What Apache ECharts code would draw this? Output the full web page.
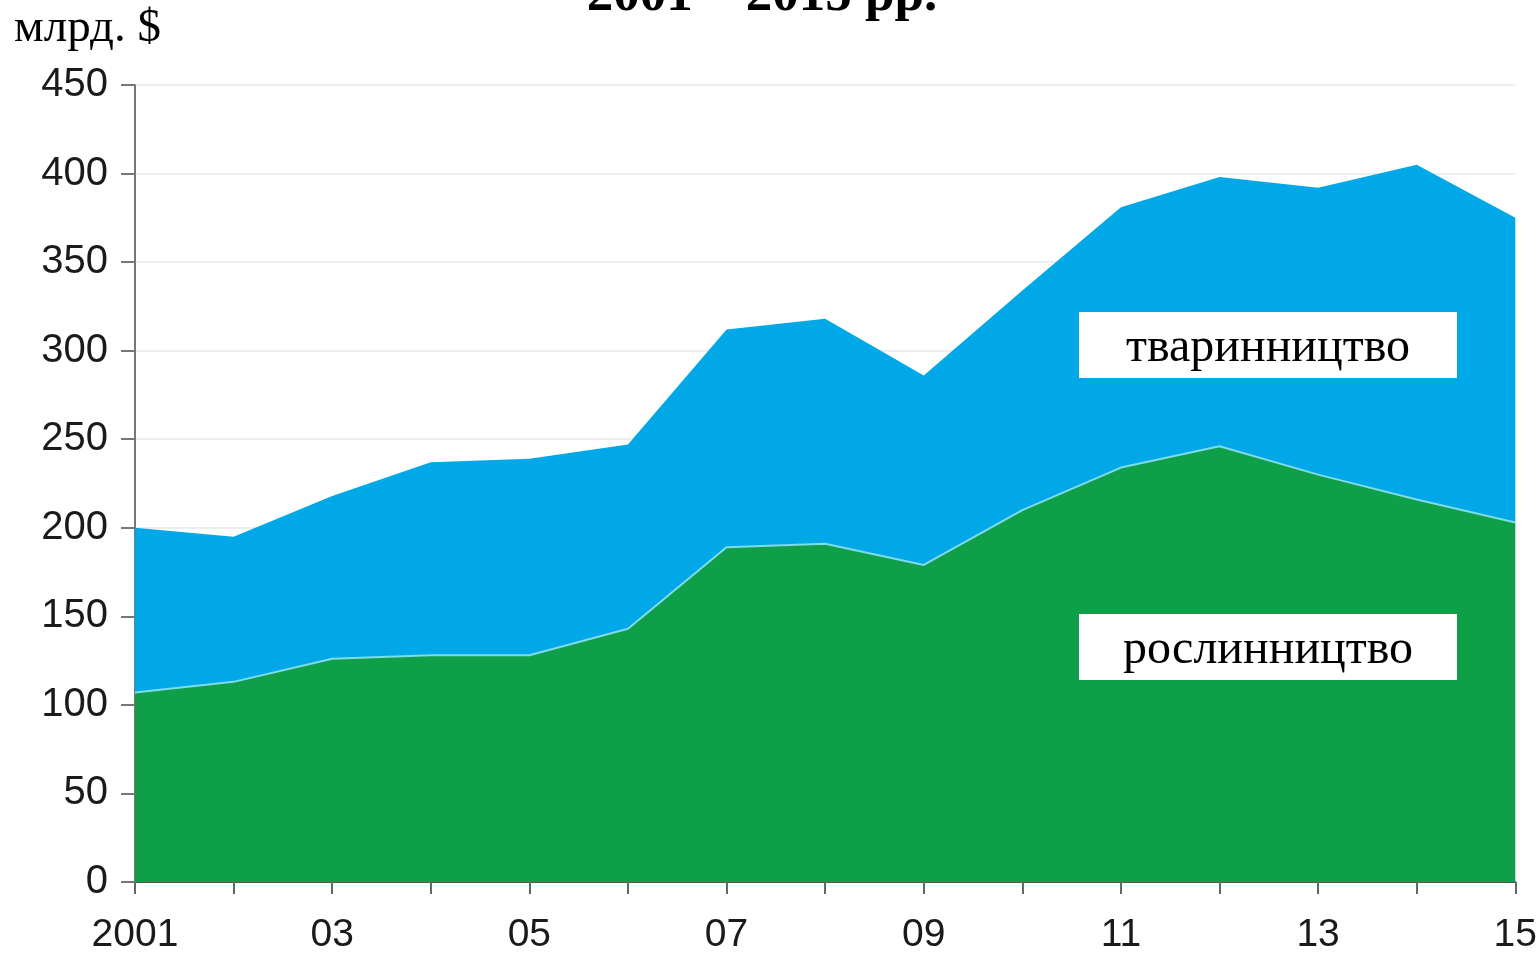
<!DOCTYPE html>
<html>
<head>
<meta charset="utf-8">
<script src="https://cdn.jsdelivr.net/npm/echarts@6/dist/echarts.min.js"></script>
<style>
  html, body { margin: 0; padding: 0; background: #fff; }
  #chart { width: 1540px; height: 957px; }
</style>
</head>
<body>
<div id="chart"></div>
<script>
// years and values (млрд. $)
const years = ['2001', '2002', '2003', '2004', '2005', '2006', '2007', '2008',
  '2009', '2010', '2011', '2012', '2013', '2014', '2015'];
const yearLabels = ['2001', '', '03', '', '05', '', '07', '', '09', '', '11', '', '13', '', '15'];
const crops = [107, 113, 126, 128, 128, 143, 189, 191, 179, 210, 234, 246, 230, 216, 203];
const totals = [200, 195, 218, 237, 239, 247, 312, 318, 286, 334, 381, 398, 392, 405, 375];
const livestock = totals.map((t, i) => t - crops[i]);

const chart = echarts.init(document.getElementById('chart'));

const sans = '"Liberation Sans", Arial, sans-serif';
const serif = '"Liberation Serif", "Times New Roman", serif';

const option = {
  animation: false,
  grid: { left: 135, right: 17, top: 85, bottom: 75 },
  xAxis: {
    type: 'category',
    data: years,
    boundaryGap: false,
    axisLine: { lineStyle: { color: '#555', width: 2 } },
    axisTick: { show: true, length: 12, interval: 0, lineStyle: { color: '#666', width: 2 } },
    axisLabel: {
      interval: 0,
      margin: 34,
      fontFamily: sans,
      fontSize: 39,
      color: '#1a1a1a',
      formatter: (v, i) => yearLabels[i]
    },
    splitLine: { show: false }
  },
  yAxis: {
    type: 'value',
    min: 0,
    max: 450,
    interval: 50,
    axisLine: { show: true, lineStyle: { color: '#777', width: 2 } },
    axisTick: { show: true, length: 14, lineStyle: { color: '#777', width: 2 } },
    axisLabel: { margin: 27, fontFamily: sans, fontSize: 40, color: '#1a1a1a' },
    splitLine: { lineStyle: { color: '#eeeeee', width: 2 } }
  },
  series: [
    {
      name: 'рослинництво',
      type: 'line',
      stack: 'total',
      data: crops,
      symbol: 'none',
      lineStyle: { color: '#7fdbe9', width: 2 },
      areaStyle: { color: '#0f9f48', opacity: 1 },
      z: 3
    },
    {
      name: 'тваринництво',
      type: 'line',
      stack: 'total',
      data: livestock,
      symbol: 'none',
      lineStyle: { width: 0 },
      areaStyle: { color: '#00a8e8', opacity: 1 },
      z: 2
    }
  ],
  graphic: [
    {
      type: 'text',
      left: 14,
      top: 5,
      style: { text: 'млрд. $', font: '47px ' + serif, fill: '#000' }
    },
    {
      type: 'text',
      x: 762,
      y: -4,
      style: {
        text: '2001 – 2015 рр.',
        font: 'bold 53px ' + serif,
        fill: '#000',
        align: 'center',
        verticalAlign: 'middle'
      }
    },
    {
      type: 'rect',
      shape: { x: 1079, y: 312, width: 378, height: 66 },
      style: { fill: '#fff' },
      z: 10
    },
    {
      type: 'text',
      x: 1268,
      y: 348,
      style: {
        text: 'тваринництво',
        font: '48px ' + serif,
        fill: '#000',
        align: 'center',
        verticalAlign: 'middle'
      },
      z: 11
    },
    {
      type: 'rect',
      shape: { x: 1079, y: 614, width: 378, height: 66 },
      style: { fill: '#fff' },
      z: 10
    },
    {
      type: 'text',
      x: 1268,
      y: 650,
      style: {
        text: 'рослинництво',
        font: '48px ' + serif,
        fill: '#000',
        align: 'center',
        verticalAlign: 'middle'
      },
      z: 11
    }
  ]
};

chart.setOption(option);
</script>
</body>
</html>
